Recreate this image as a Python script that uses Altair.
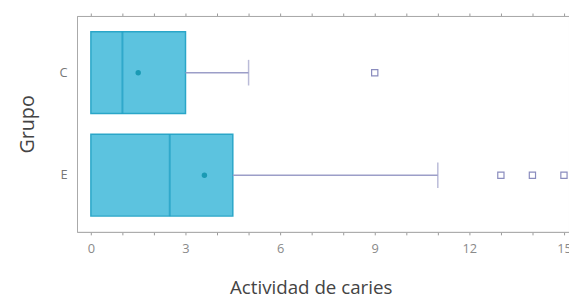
import altair as alt
import pandas as pd

groups = ["C", "E"]
q1 = [0, 0]
median = [1, 2.5]
q3 = [3, 4.5]
whisk_hi = [5, 11]
means = [1.5, 3.6]
out_group = ["C", "E", "E", "E"]
out_value = [9, 13, 14, 15]
tick_vals = list(range(0, 16))

stats = pd.DataFrame({"g": groups, "q1": q1, "med": median, "q3": q3,
                      "hi": whisk_hi, "mean": means})
outs = pd.DataFrame({"g": out_group, "v": out_value})

font = "Open Sans"
xscale = alt.Scale(domain=[-0.44, 15.16], nice=False, zero=False)
yscale = alt.Scale(domain=groups, paddingInner=0, paddingOuter=0.053)

xaxis = alt.Axis(values=tick_vals, labelExpr="datum.value % 3 == 0 ? datum.label : ''",
                 tickSize=3, tickColor="#999", domainColor="#aaa", grid=False,
                 labelColor="#8a8a8a", labelFontSize=13, labelFont=font, labelPadding=8,
                 title="Actividad de caries", titleFont=font, titleFontSize=19,
                 titleFontWeight="normal", titleColor="#444", titleX=237, titleY=62,
                 titleAlign="center", titleBaseline="alphabetic")
xaxis_top = alt.Axis(orient="top", values=tick_vals, labels=False, title=None,
                     tickSize=3, tickColor="#999", domainColor="#aaa", grid=False)
yaxis = alt.Axis(ticks=False, domainColor="#aaa", labelColor="#777", labelFontSize=13,
                 labelFont=font, labelPadding=10, title="Grupo", titleFont=font,
                 titleFontSize=20, titleFontWeight="normal", titleColor="#444",
                 titlePadding=22, grid=False)

base = alt.Chart(stats)
y = alt.Y("g:N", scale=yscale, axis=yaxis)

box = base.mark_bar(size=83, color="#5cc3df", stroke="#2aa6c8", strokeWidth=1.5).encode(
    x=alt.X("q1:Q", scale=xscale, axis=xaxis), x2="q3:Q", y=y)
whisk = base.mark_rule(color="#9c9ec8", strokeWidth=1.5).encode(
    x=alt.X("q3:Q", scale=xscale, axis=xaxis_top), x2="hi:Q", y=y)
cap = base.mark_tick(size=26, thickness=1.5, color="#9c9ec8").encode(
    x=alt.X("hi:Q", scale=xscale, axis=None), y=y)
med = base.mark_tick(size=83, thickness=2, color="#1e9ec2").encode(
    x=alt.X("med:Q", scale=xscale, axis=None), y=y)
mean = base.mark_point(shape="circle", filled=True, size=30, color="#1a9ab4", opacity=1).encode(
    x=alt.X("mean:Q", scale=xscale, axis=None), y=y)
outl = alt.Chart(outs).mark_point(shape="square", filled=False, size=40, color="#8a8cbe",
                                  strokeWidth=1.2, opacity=1).encode(
    x=alt.X("v:Q", scale=xscale, axis=None), y=y)

chart = alt.layer(box, whisk, cap, med, mean, outl).resolve_axis(x="independent").properties(
    width=499, height=219,
    autosize=alt.AutoSizeParams(type="none"),
    padding={"left": 70, "top": 6, "right": 0, "bottom": 69},
    background="white",
).configure_view(stroke="#bbb", strokeWidth=1)

chart.save("out.html", embed_options={"renderer": "svg", "actions": False})
